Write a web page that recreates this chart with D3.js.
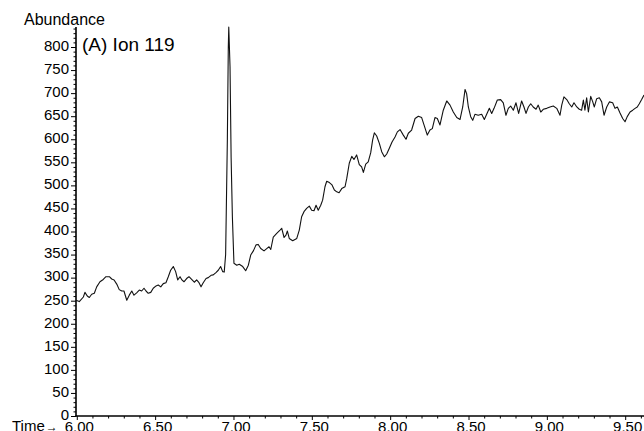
<!DOCTYPE html>
<html>
<head>
<meta charset="utf-8">
<script src="https://cdn.jsdelivr.net/npm/d3@7"></script>
<style>
  body { margin: 0; background: #fff; }
  svg { display: block; font-family: "Liberation Sans", Arial, Helvetica, sans-serif; }
  .line { fill: none; stroke: #111; stroke-width: 1.1; stroke-linejoin: round; }
  .axis text { font-size: 15px; fill: #000; }
  .axis line { stroke: #000; }
</style>
</head>
<body>
<div id="fig"></div>
<script>

// scan times (min)
const scanTime = [
  5.995, 6.016, 6.042, 6.052, 6.067, 6.080, 6.095, 6.112, 6.127, 6.148, 6.169, 6.186, 6.208, 6.223, 6.238,
  6.255, 6.271, 6.287, 6.301, 6.319, 6.335, 6.351, 6.365, 6.382, 6.399, 6.414, 6.429, 6.442, 6.456, 6.472,
  6.488, 6.506, 6.520, 6.536, 6.552, 6.569, 6.584, 6.599, 6.616, 6.631, 6.644, 6.659, 6.671, 6.684, 6.701,
  6.716, 6.733, 6.750, 6.765, 6.780, 6.793, 6.807, 6.825, 6.839, 6.857, 6.871, 6.888, 6.903, 6.918, 6.931,
  6.941, 6.950, 6.961, 6.967, 6.970, 6.974, 6.978, 6.985, 6.993, 7.003, 7.021, 7.037, 7.059, 7.078, 7.095,
  7.110, 7.127, 7.144, 7.158, 7.174, 7.195, 7.212, 7.227, 7.238, 7.254, 7.276, 7.297, 7.308, 7.323, 7.335,
  7.344, 7.356, 7.378, 7.404, 7.420, 7.435, 7.450, 7.467, 7.484, 7.499, 7.514, 7.527, 7.541, 7.557, 7.569,
  7.584, 7.595, 7.612, 7.629, 7.644, 7.659, 7.674, 7.691, 7.712, 7.723, 7.739, 7.755, 7.769, 7.786, 7.803,
  7.818, 7.829, 7.844, 7.860, 7.876, 7.888, 7.899, 7.914, 7.931, 7.946, 7.963, 7.978, 7.994, 8.012, 8.031,
  8.046, 8.063, 8.084, 8.101, 8.116, 8.137, 8.159, 8.180, 8.201, 8.216, 8.237, 8.254, 8.269, 8.286, 8.301,
  8.318, 8.339, 8.361, 8.382, 8.403, 8.425, 8.446, 8.463, 8.478, 8.488, 8.499, 8.514, 8.527, 8.541, 8.562,
  8.584, 8.601, 8.616, 8.633, 8.648, 8.663, 8.684, 8.705, 8.722, 8.739, 8.754, 8.769, 8.786, 8.803, 8.820,
  8.839, 8.854, 8.867, 8.882, 8.897, 8.913, 8.931, 8.945, 8.961, 8.977, 8.999, 9.020, 9.041, 9.063, 9.084,
  9.095, 9.109, 9.127, 9.143, 9.159, 9.173, 9.191, 9.207, 9.222, 9.233, 9.243, 9.254, 9.265, 9.280, 9.293,
  9.303, 9.318, 9.335, 9.350, 9.365, 9.382, 9.399, 9.420, 9.435, 9.450, 9.467, 9.484, 9.499, 9.513, 9.531,
  9.548, 9.563, 9.577, 9.590, 9.605, 9.620
];

// ion 119 abundance at each scan
const abundance = [
  251, 248, 258, 268, 260, 257, 264, 266, 280, 291, 296, 302, 302, 297, 295,
  286, 274, 271, 271, 251, 262, 271, 262, 267, 273, 271, 277, 271, 266, 268,
  277, 282, 284, 280, 287, 289, 302, 316, 324, 313, 295, 302, 295, 291, 298,
  302, 296, 290, 295, 289, 280, 289, 298, 300, 305, 306, 311, 316, 324, 313,
  312, 350, 600, 800, 843, 800, 757, 560, 432, 331, 327, 329, 324, 315, 327,
  349, 358, 371, 372, 363, 358, 363, 367, 361, 388, 396, 403, 407, 387, 392,
  401, 385, 380, 385, 403, 432, 443, 450, 455, 446, 445, 457, 446, 457, 468,
  497, 509, 506, 501, 490, 486, 484, 493, 497, 515, 548, 563, 556, 566, 545,
  540, 528, 546, 551, 571, 598, 614, 607, 591, 573, 562, 568, 580, 594, 605,
  616, 621, 609, 600, 613, 620, 645, 650, 647, 631, 609, 620, 623, 647, 645,
  631, 663, 683, 674, 659, 647, 643, 670, 708, 699, 670, 649, 641, 654, 652,
  654, 643, 654, 667, 656, 667, 685, 686, 679, 652, 667, 672, 663, 679, 656,
  683, 670, 656, 670, 677, 670, 665, 674, 659, 665, 667, 670, 672, 667, 652,
  674, 692, 686, 677, 670, 679, 670, 665, 663, 685, 663, 690, 659, 693, 681,
  670, 688, 690, 681, 652, 670, 681, 679, 667, 670, 657, 645, 638, 649, 659,
  663, 667, 670, 677, 686, 696
];

const yTicks = [0, 50, 100, 150, 200, 250, 300, 350, 400, 450, 500, 550, 600, 650, 700, 750, 800];
const xTicks = [6.00, 6.50, 7.00, 7.50, 8.00, 8.50, 9.00, 9.50];

const titleText = "(A) Ion 119";

var W = 644, H = 431;

var svg = d3.select("#fig").append("svg")
    .attr("width", W)
    .attr("height", H);

var xScale = d3.scaleLinear()
    .domain([5.995, 9.62])
    .range([76, 644]);

var yScale = d3.scaleLinear()
    .domain([0, 800])
    .range([416, 47]);

// minor ticks every 10 on y, every 0.1 min on x
var yMinor = d3.range(0, 841, 10).filter(v => v % 50 != 0);
var xMinor = d3.range(6.0, 9.65, 0.1).filter(v => Math.abs(v * 2 - Math.round(v * 2)) > 0.01);

svg.append("g")
    .attr("class", "axis")
    .attr("transform", "translate(76,0)")
    .call(d3.axisLeft(yScale).tickValues(yMinor).tickSize(2.5).tickFormat(""))
    .call(g => g.select(".domain").remove());

svg.append("g")
    .attr("class", "axis")
    .attr("transform", "translate(76,0)")
    .call(d3.axisLeft(yScale).tickValues(yTicks).tickSize(5).tickPadding(2).tickFormat(d3.format("d")))
    .call(g => g.select(".domain").remove())
    .call(g => g.selectAll("text").attr("dy", "0.22em"));

svg.append("g")
    .attr("class", "axis")
    .attr("transform", "translate(0,416)")
    .call(d3.axisBottom(xScale).tickValues(xMinor).tickSize(2.5).tickFormat(""))
    .call(g => g.select(".domain").remove());

svg.append("g")
    .attr("class", "axis")
    .attr("transform", "translate(0,416)")
    .call(d3.axisBottom(xScale).tickValues(xTicks).tickSize(4).tickPadding(1).tickFormat(d3.format(".2f")))
    .call(g => g.select(".domain").remove())
    .call(g => g.selectAll("text").attr("dx", "2"));

// axis lines
svg.append("line")
    .attr("x1", 76).attr("x2", 76)
    .attr("y1", 416.5).attr("y2", 27)
    .attr("stroke", "#000").attr("stroke-width", 1.6);

svg.append("line")
    .attr("x1", 75.5).attr("x2", 644)
    .attr("y1", 416).attr("y2", 416)
    .attr("stroke", "#000").attr("stroke-width", 1.6);

// the trace
var trace = scanTime.map((t, i) => ({t: t, v: abundance[i]}));

var line = d3.line()
    .x(d => xScale(d.t))
    .y(d => yScale(d.v));

svg.append("path")
    .datum(trace)
    .attr("class", "line")
    .attr("d", line);

// labels
svg.append("text")
    .attr("x", 24)
    .attr("y", 25)
    .style("font-size", "16px")
    .text("Abundance");

svg.append("text")
    .attr("x", 82)
    .attr("y", 51)
    .style("font-size", "19px")
    .text(titleText);

var timeLab = svg.append("text")
    .attr("x", 12)
    .attr("y", 431)
    .style("font-size", "15px");
timeLab.append("tspan").text("Time");
timeLab.append("tspan").attr("dx", 1).style("font-size", "12px").text("\u2192");

</script>
</body>
</html>
